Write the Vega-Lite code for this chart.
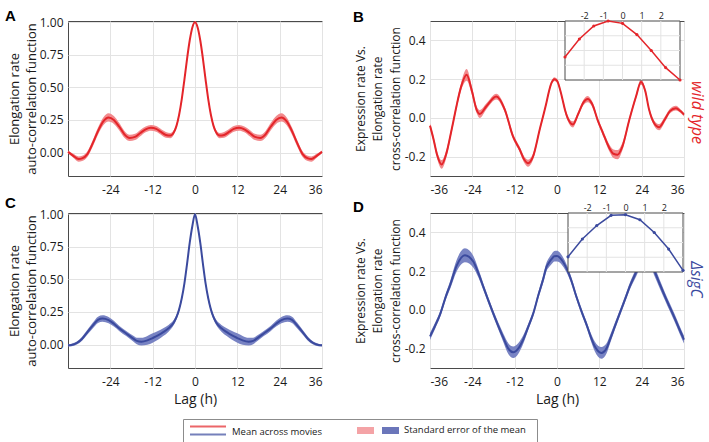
{
  "$schema": "https://vega.github.io/schema/vega-lite/v6.json",
  "autosize": {"type": "none"},
  "padding": {"left": 68, "top": 21, "right": 641, "bottom": 421},
  "background": "white",
  "datasets": {
    "A": [
      {"lag": -36, "mean": 0.005, "lo": -0.005, "hi": 0.015},
      {"lag": -34.5, "mean": -0.025, "lo": -0.04, "hi": -0.01},
      {"lag": -33, "mean": -0.05, "lo": -0.07, "hi": -0.03},
      {"lag": -32, "mean": -0.045, "lo": -0.065, "hi": -0.025},
      {"lag": -30.5, "mean": -0.012, "lo": -0.034, "hi": 0.01},
      {"lag": -29, "mean": 0.07, "lo": 0.045, "hi": 0.095},
      {"lag": -27.5, "mean": 0.165, "lo": 0.137, "hi": 0.193},
      {"lag": -26, "mean": 0.24, "lo": 0.21, "hi": 0.27},
      {"lag": -24.5, "mean": 0.27, "lo": 0.238, "hi": 0.302},
      {"lag": -23, "mean": 0.25, "lo": 0.22, "hi": 0.28},
      {"lag": -21.5, "mean": 0.2, "lo": 0.172, "hi": 0.228},
      {"lag": -20, "mean": 0.14, "lo": 0.114, "hi": 0.166},
      {"lag": -18.5, "mean": 0.112, "lo": 0.088, "hi": 0.136},
      {"lag": -17, "mean": 0.12, "lo": 0.096, "hi": 0.144},
      {"lag": -15.5, "mean": 0.15, "lo": 0.126, "hi": 0.174},
      {"lag": -14, "mean": 0.178, "lo": 0.156, "hi": 0.2},
      {"lag": -12.5, "mean": 0.19, "lo": 0.168, "hi": 0.212},
      {"lag": -11, "mean": 0.182, "lo": 0.16, "hi": 0.204},
      {"lag": -9.75, "mean": 0.16, "lo": 0.138, "hi": 0.182},
      {"lag": -8.25, "mean": 0.135, "lo": 0.113, "hi": 0.157},
      {"lag": -7, "mean": 0.13, "lo": 0.11, "hi": 0.15},
      {"lag": -6, "mean": 0.155, "lo": 0.137, "hi": 0.173},
      {"lag": -5.25, "mean": 0.205, "lo": 0.188, "hi": 0.222},
      {"lag": -4.5, "mean": 0.29, "lo": 0.274, "hi": 0.306},
      {"lag": -3.75, "mean": 0.41, "lo": 0.395, "hi": 0.425},
      {"lag": -3, "mean": 0.56, "lo": 0.546, "hi": 0.574},
      {"lag": -2.25, "mean": 0.72, "lo": 0.708, "hi": 0.732},
      {"lag": -1.5, "mean": 0.86, "lo": 0.85, "hi": 0.87},
      {"lag": -0.75, "mean": 0.96, "lo": 0.952, "hi": 0.968},
      {"lag": 0, "mean": 1.0, "lo": 0.996, "hi": 1.004},
      {"lag": 0.75, "mean": 0.96, "lo": 0.952, "hi": 0.968},
      {"lag": 1.5, "mean": 0.86, "lo": 0.85, "hi": 0.87},
      {"lag": 2.25, "mean": 0.72, "lo": 0.708, "hi": 0.732},
      {"lag": 3, "mean": 0.56, "lo": 0.546, "hi": 0.574},
      {"lag": 3.75, "mean": 0.41, "lo": 0.395, "hi": 0.425},
      {"lag": 4.5, "mean": 0.29, "lo": 0.274, "hi": 0.306},
      {"lag": 5.25, "mean": 0.205, "lo": 0.188, "hi": 0.222},
      {"lag": 6, "mean": 0.155, "lo": 0.137, "hi": 0.173},
      {"lag": 7, "mean": 0.13, "lo": 0.11, "hi": 0.15},
      {"lag": 8.25, "mean": 0.135, "lo": 0.113, "hi": 0.157},
      {"lag": 9.75, "mean": 0.16, "lo": 0.138, "hi": 0.182},
      {"lag": 11, "mean": 0.182, "lo": 0.16, "hi": 0.204},
      {"lag": 12.5, "mean": 0.19, "lo": 0.168, "hi": 0.212},
      {"lag": 14, "mean": 0.178, "lo": 0.156, "hi": 0.2},
      {"lag": 15.5, "mean": 0.15, "lo": 0.126, "hi": 0.174},
      {"lag": 17, "mean": 0.12, "lo": 0.096, "hi": 0.144},
      {"lag": 18.5, "mean": 0.112, "lo": 0.088, "hi": 0.136},
      {"lag": 20, "mean": 0.14, "lo": 0.114, "hi": 0.166},
      {"lag": 21.5, "mean": 0.2, "lo": 0.172, "hi": 0.228},
      {"lag": 23, "mean": 0.25, "lo": 0.22, "hi": 0.28},
      {"lag": 24.5, "mean": 0.27, "lo": 0.238, "hi": 0.302},
      {"lag": 26, "mean": 0.24, "lo": 0.21, "hi": 0.27},
      {"lag": 27.5, "mean": 0.165, "lo": 0.137, "hi": 0.193},
      {"lag": 29, "mean": 0.07, "lo": 0.045, "hi": 0.095},
      {"lag": 30.5, "mean": -0.012, "lo": -0.034, "hi": 0.01},
      {"lag": 32, "mean": -0.045, "lo": -0.065, "hi": -0.025},
      {"lag": 33, "mean": -0.05, "lo": -0.07, "hi": -0.03},
      {"lag": 34.5, "mean": -0.025, "lo": -0.04, "hi": -0.01},
      {"lag": 36, "mean": 0.005, "lo": -0.005, "hi": 0.015}
    ],
    "B": [
      {"lag": -36, "mean": -0.04, "lo": -0.052, "hi": -0.028},
      {"lag": -35, "mean": -0.11, "lo": -0.125, "hi": -0.095},
      {"lag": -34, "mean": -0.19, "lo": -0.208, "hi": -0.172},
      {"lag": -32.7, "mean": -0.24, "lo": -0.262, "hi": -0.218},
      {"lag": -31.3, "mean": -0.18, "lo": -0.2, "hi": -0.16},
      {"lag": -30.2, "mean": -0.09, "lo": -0.106, "hi": -0.074},
      {"lag": -29.4, "mean": -0.02, "lo": -0.035, "hi": -0.005},
      {"lag": -28.5, "mean": 0.06, "lo": 0.044, "hi": 0.076},
      {"lag": -27.2, "mean": 0.16, "lo": 0.14, "hi": 0.18},
      {"lag": -25.6, "mean": 0.222, "lo": 0.192, "hi": 0.252},
      {"lag": -24.2, "mean": 0.145, "lo": 0.123, "hi": 0.167},
      {"lag": -22.8, "mean": 0.043, "lo": 0.025, "hi": 0.061},
      {"lag": -21.9, "mean": 0.02, "lo": 0.0, "hi": 0.04},
      {"lag": -20, "mean": 0.06, "lo": 0.045, "hi": 0.075},
      {"lag": -17.2, "mean": 0.11, "lo": 0.095, "hi": 0.125},
      {"lag": -14.8, "mean": 0.043, "lo": 0.028, "hi": 0.058},
      {"lag": -12.5, "mean": -0.094, "lo": -0.108, "hi": -0.08},
      {"lag": -10.6, "mean": -0.162, "lo": -0.176, "hi": -0.148},
      {"lag": -9.3, "mean": -0.215, "lo": -0.231, "hi": -0.199},
      {"lag": -8.2, "mean": -0.234, "lo": -0.252, "hi": -0.216},
      {"lag": -6.8, "mean": -0.2, "lo": -0.216, "hi": -0.184},
      {"lag": -4.9, "mean": -0.06, "lo": -0.072, "hi": -0.048},
      {"lag": -3, "mean": 0.078, "lo": 0.068, "hi": 0.088},
      {"lag": -2.25, "mean": 0.139, "lo": 0.129, "hi": 0.149},
      {"lag": -1.5, "mean": 0.183, "lo": 0.173, "hi": 0.193},
      {"lag": -0.75, "mean": 0.2, "lo": 0.19, "hi": 0.21},
      {"lag": 0, "mean": 0.192, "lo": 0.182, "hi": 0.202},
      {"lag": 0.75, "mean": 0.154, "lo": 0.144, "hi": 0.164},
      {"lag": 1.5, "mean": 0.1, "lo": 0.09, "hi": 0.11},
      {"lag": 2.25, "mean": 0.042, "lo": 0.03, "hi": 0.054},
      {"lag": 3, "mean": 0.0, "lo": -0.014, "hi": 0.014},
      {"lag": 4.5, "mean": -0.034, "lo": -0.05, "hi": -0.018},
      {"lag": 6, "mean": 0.02, "lo": 0.008, "hi": 0.032},
      {"lag": 7.5, "mean": 0.08, "lo": 0.066, "hi": 0.094},
      {"lag": 8.7, "mean": 0.097, "lo": 0.081, "hi": 0.113},
      {"lag": 10, "mean": 0.07, "lo": 0.056, "hi": 0.084},
      {"lag": 11.5, "mean": -0.01, "lo": -0.022, "hi": 0.002},
      {"lag": 13, "mean": -0.077, "lo": -0.091, "hi": -0.063},
      {"lag": 14.8, "mean": -0.154, "lo": -0.172, "hi": -0.136},
      {"lag": 16, "mean": -0.185, "lo": -0.207, "hi": -0.163},
      {"lag": 17.2, "mean": -0.19, "lo": -0.214, "hi": -0.166},
      {"lag": 18.5, "mean": -0.15, "lo": -0.17, "hi": -0.13},
      {"lag": 20.5, "mean": -0.01, "lo": -0.022, "hi": 0.002},
      {"lag": 22.4, "mean": 0.11, "lo": 0.098, "hi": 0.122},
      {"lag": 23.8, "mean": 0.185, "lo": 0.171, "hi": 0.199},
      {"lag": 25, "mean": 0.14, "lo": 0.128, "hi": 0.152},
      {"lag": 26.1, "mean": 0.043, "lo": 0.031, "hi": 0.055},
      {"lag": 27.5, "mean": -0.026, "lo": -0.04, "hi": -0.012},
      {"lag": 29, "mean": -0.048, "lo": -0.064, "hi": -0.032},
      {"lag": 30.5, "mean": -0.01, "lo": -0.024, "hi": 0.004},
      {"lag": 32, "mean": 0.035, "lo": 0.023, "hi": 0.047},
      {"lag": 33.7, "mean": 0.05, "lo": 0.038, "hi": 0.062},
      {"lag": 35, "mean": 0.035, "lo": 0.025, "hi": 0.045},
      {"lag": 36, "mean": 0.017, "lo": 0.007, "hi": 0.027}
    ],
    "C": [
      {"lag": -36, "mean": -0.006, "lo": -0.014, "hi": 0.002},
      {"lag": -35, "mean": -0.003, "lo": -0.013, "hi": 0.007},
      {"lag": -33.5, "mean": 0.012, "lo": 0.0, "hi": 0.024},
      {"lag": -32, "mean": 0.045, "lo": 0.03, "hi": 0.06},
      {"lag": -30.5, "mean": 0.095, "lo": 0.077, "hi": 0.113},
      {"lag": -29, "mean": 0.145, "lo": 0.123, "hi": 0.167},
      {"lag": -27.5, "mean": 0.19, "lo": 0.166, "hi": 0.214},
      {"lag": -26.2, "mean": 0.2, "lo": 0.175, "hi": 0.225},
      {"lag": -24.5, "mean": 0.188, "lo": 0.164, "hi": 0.212},
      {"lag": -23, "mean": 0.16, "lo": 0.138, "hi": 0.182},
      {"lag": -21.5, "mean": 0.125, "lo": 0.105, "hi": 0.145},
      {"lag": -19.5, "mean": 0.085, "lo": 0.065, "hi": 0.105},
      {"lag": -17.5, "mean": 0.046, "lo": 0.024, "hi": 0.068},
      {"lag": -16.5, "mean": 0.028, "lo": 0.003, "hi": 0.053},
      {"lag": -15.2, "mean": 0.022, "lo": -0.008, "hi": 0.052},
      {"lag": -13.5, "mean": 0.032, "lo": -0.002, "hi": 0.066},
      {"lag": -12, "mean": 0.05, "lo": 0.014, "hi": 0.086},
      {"lag": -10.5, "mean": 0.07, "lo": 0.036, "hi": 0.104},
      {"lag": -9, "mean": 0.095, "lo": 0.065, "hi": 0.125},
      {"lag": -7.5, "mean": 0.125, "lo": 0.099, "hi": 0.151},
      {"lag": -6, "mean": 0.17, "lo": 0.15, "hi": 0.19},
      {"lag": -5.25, "mean": 0.21, "lo": 0.192, "hi": 0.228},
      {"lag": -4.5, "mean": 0.27, "lo": 0.254, "hi": 0.286},
      {"lag": -3.75, "mean": 0.355, "lo": 0.341, "hi": 0.369},
      {"lag": -3, "mean": 0.47, "lo": 0.458, "hi": 0.482},
      {"lag": -2.25, "mean": 0.62, "lo": 0.61, "hi": 0.63},
      {"lag": -1.5, "mean": 0.78, "lo": 0.772, "hi": 0.788},
      {"lag": -0.75, "mean": 0.91, "lo": 0.904, "hi": 0.916},
      {"lag": 0, "mean": 1.0, "lo": 0.996, "hi": 1.004},
      {"lag": 0.75, "mean": 0.91, "lo": 0.904, "hi": 0.916},
      {"lag": 1.5, "mean": 0.78, "lo": 0.772, "hi": 0.788},
      {"lag": 2.25, "mean": 0.62, "lo": 0.61, "hi": 0.63},
      {"lag": 3, "mean": 0.47, "lo": 0.458, "hi": 0.482},
      {"lag": 3.75, "mean": 0.355, "lo": 0.341, "hi": 0.369},
      {"lag": 4.5, "mean": 0.27, "lo": 0.254, "hi": 0.286},
      {"lag": 5.25, "mean": 0.21, "lo": 0.192, "hi": 0.228},
      {"lag": 6, "mean": 0.17, "lo": 0.15, "hi": 0.19},
      {"lag": 7.5, "mean": 0.125, "lo": 0.099, "hi": 0.151},
      {"lag": 9, "mean": 0.095, "lo": 0.065, "hi": 0.125},
      {"lag": 10.5, "mean": 0.07, "lo": 0.036, "hi": 0.104},
      {"lag": 12, "mean": 0.05, "lo": 0.014, "hi": 0.086},
      {"lag": 13.5, "mean": 0.032, "lo": -0.002, "hi": 0.066},
      {"lag": 15.2, "mean": 0.022, "lo": -0.008, "hi": 0.052},
      {"lag": 16.5, "mean": 0.028, "lo": 0.003, "hi": 0.053},
      {"lag": 17.5, "mean": 0.046, "lo": 0.024, "hi": 0.068},
      {"lag": 19.5, "mean": 0.085, "lo": 0.065, "hi": 0.105},
      {"lag": 21.5, "mean": 0.125, "lo": 0.105, "hi": 0.145},
      {"lag": 23, "mean": 0.16, "lo": 0.138, "hi": 0.182},
      {"lag": 24.5, "mean": 0.188, "lo": 0.164, "hi": 0.212},
      {"lag": 26.2, "mean": 0.2, "lo": 0.175, "hi": 0.225},
      {"lag": 27.5, "mean": 0.19, "lo": 0.166, "hi": 0.214},
      {"lag": 29, "mean": 0.145, "lo": 0.123, "hi": 0.167},
      {"lag": 30.5, "mean": 0.095, "lo": 0.077, "hi": 0.113},
      {"lag": 32, "mean": 0.045, "lo": 0.03, "hi": 0.06},
      {"lag": 33.5, "mean": 0.012, "lo": 0.0, "hi": 0.024},
      {"lag": 35, "mean": -0.003, "lo": -0.013, "hi": 0.007},
      {"lag": 36, "mean": -0.006, "lo": -0.014, "hi": 0.002}
    ],
    "D": [
      {"lag": -36, "mean": -0.137, "lo": -0.155, "hi": -0.119},
      {"lag": -34.5, "mean": -0.08, "lo": -0.096, "hi": -0.064},
      {"lag": -33.2, "mean": -0.026, "lo": -0.041, "hi": -0.011},
      {"lag": -31.5, "mean": 0.07, "lo": 0.054, "hi": 0.086},
      {"lag": -30.3, "mean": 0.128, "lo": 0.108, "hi": 0.148},
      {"lag": -28.4, "mean": 0.23, "lo": 0.2, "hi": 0.26},
      {"lag": -26.1, "mean": 0.282, "lo": 0.246, "hi": 0.318},
      {"lag": -23.7, "mean": 0.248, "lo": 0.218, "hi": 0.278},
      {"lag": -22.3, "mean": 0.19, "lo": 0.168, "hi": 0.212},
      {"lag": -20.9, "mean": 0.12, "lo": 0.102, "hi": 0.138},
      {"lag": -19.5, "mean": 0.05, "lo": 0.034, "hi": 0.066},
      {"lag": -18.1, "mean": -0.017, "lo": -0.033, "hi": -0.001},
      {"lag": -16.6, "mean": -0.085, "lo": -0.103, "hi": -0.067},
      {"lag": -15.2, "mean": -0.145, "lo": -0.167, "hi": -0.123},
      {"lag": -13.8, "mean": -0.2, "lo": -0.228, "hi": -0.172},
      {"lag": -12.4, "mean": -0.219, "lo": -0.249, "hi": -0.189},
      {"lag": -11, "mean": -0.2, "lo": -0.228, "hi": -0.172},
      {"lag": -9.6, "mean": -0.154, "lo": -0.176, "hi": -0.132},
      {"lag": -8.1, "mean": -0.085, "lo": -0.101, "hi": -0.069},
      {"lag": -6.7, "mean": -0.017, "lo": -0.031, "hi": -0.003},
      {"lag": -5.3, "mean": 0.075, "lo": 0.059, "hi": 0.091},
      {"lag": -3.9, "mean": 0.16, "lo": 0.14, "hi": 0.18},
      {"lag": -3, "mean": 0.2206, "lo": 0.1986, "hi": 0.2426},
      {"lag": -2.25, "mean": 0.2448, "lo": 0.2208, "hi": 0.2688},
      {"lag": -1.5, "mean": 0.263, "lo": 0.237, "hi": 0.289},
      {"lag": -0.75, "mean": 0.2768, "lo": 0.2498, "hi": 0.3038},
      {"lag": 0, "mean": 0.2777, "lo": 0.2497, "hi": 0.3057},
      {"lag": 0.75, "mean": 0.2709, "lo": 0.2439, "hi": 0.2979},
      {"lag": 1.5, "mean": 0.2535, "lo": 0.2285, "hi": 0.2785},
      {"lag": 2.25, "mean": 0.2311, "lo": 0.2081, "hi": 0.2541},
      {"lag": 3, "mean": 0.2023, "lo": 0.1823, "hi": 0.2223},
      {"lag": 4, "mean": 0.155, "lo": 0.138, "hi": 0.172},
      {"lag": 5.5, "mean": 0.068, "lo": 0.053, "hi": 0.083},
      {"lag": 7, "mean": -0.01, "lo": -0.025, "hi": 0.005},
      {"lag": 8.4, "mean": -0.077, "lo": -0.093, "hi": -0.061},
      {"lag": 9.6, "mean": -0.14, "lo": -0.16, "hi": -0.12},
      {"lag": 10.7, "mean": -0.188, "lo": -0.213, "hi": -0.163},
      {"lag": 12.6, "mean": -0.222, "lo": -0.252, "hi": -0.192},
      {"lag": 14, "mean": -0.2, "lo": -0.226, "hi": -0.174},
      {"lag": 15, "mean": -0.154, "lo": -0.176, "hi": -0.132},
      {"lag": 16.4, "mean": -0.085, "lo": -0.103, "hi": -0.067},
      {"lag": 17.8, "mean": -0.017, "lo": -0.033, "hi": -0.001},
      {"lag": 19.2, "mean": 0.05, "lo": 0.034, "hi": 0.066},
      {"lag": 20.6, "mean": 0.12, "lo": 0.102, "hi": 0.138},
      {"lag": 22.5, "mean": 0.197, "lo": 0.175, "hi": 0.219},
      {"lag": 24, "mean": 0.26, "lo": 0.232, "hi": 0.288},
      {"lag": 25.1, "mean": 0.28, "lo": 0.25, "hi": 0.31},
      {"lag": 26.3, "mean": 0.265, "lo": 0.237, "hi": 0.293},
      {"lag": 27.7, "mean": 0.197, "lo": 0.172, "hi": 0.222},
      {"lag": 29.2, "mean": 0.13, "lo": 0.108, "hi": 0.152},
      {"lag": 30.6, "mean": 0.07, "lo": 0.05, "hi": 0.09},
      {"lag": 31.9, "mean": 0.017, "lo": -0.003, "hi": 0.037},
      {"lag": 33.3, "mean": -0.04, "lo": -0.06, "hi": -0.02},
      {"lag": 34.7, "mean": -0.1, "lo": -0.12, "hi": -0.08},
      {"lag": 36, "mean": -0.154, "lo": -0.174, "hi": -0.134}
    ]
  },
  "vconcat": [
    {
      "vconcat": [
        {
          "hconcat": [
            {
              "width": 254, "height": 155,
              "title": {"text": "A", "dx": -63, "offset": -7.5},
              "data": {"name": "A"},
              "encoding": {
                "x": {"field": "lag", "type": "quantitative", "scale": {"domain": [-36, 36], "nice": false}, "axis": {"values": [-24, -12, 0, 12, 24, 36], "title": null}}
              },
              "layer": [
                {
                  "mark": {"type": "area", "interpolate": "monotone", "color": "#f28a8d"},
                  "encoding": {
                    "y": {"field": "lo", "type": "quantitative", "scale": {"domain": [-0.18, 1.01], "nice": false, "zero": false}, "axis": {"values": [0, 0.25, 0.5, 0.75, 1], "format": ".2f", "title": ["Elongation rate", "auto-correlation function"], "titleFontSize": 13, "titleLineHeight": 16.5, "titlePadding": 1}},
                    "y2": {"field": "hi"}
                  }
                },
                {
                  "mark": {"type": "line", "interpolate": "monotone", "color": "#e4252a", "strokeWidth": 2},
                  "encoding": {
                    "y": {"field": "mean", "type": "quantitative", "axis": {"values": [0, 0.25, 0.5, 0.75, 1], "format": ".2f", "title": ["Elongation rate", "auto-correlation function"], "titleFontSize": 13, "titleLineHeight": 16.5, "titlePadding": 1}}
                  }
                }
              ]
            },
            {
              "width": 254, "height": 155,
              "title": {"text": "B", "dx": -77, "offset": -14},
              "data": {"name": "B"},
              "resolve": {"scale": {"x": "independent", "y": "independent"}, "axis": {"x": "independent", "y": "independent"}},
              "layer": [
                {
                  "mark": {"type": "area", "interpolate": "monotone", "color": "#f28a8d"},
                  "encoding": {
                    "x": {"field": "lag", "type": "quantitative", "scale": {"domain": [-36, 36], "nice": false}, "axis": {"values": [-36, -24, -12, 0, 12, 24, 36], "title": null}},
                    "y": {"field": "lo", "type": "quantitative", "scale": {"domain": [-0.3, 0.5], "nice": false, "zero": false}, "axis": {"values": [-0.2, 0, 0.2, 0.4], "format": ".1f", "title": ["Expression rate Vs.", "Elongation rate", "cross-correlation function"], "titleFontSize": 12, "titleLineHeight": 17.5, "titlePadding": 2}},
                    "y2": {"field": "hi"}
                  }
                },
                {
                  "mark": {"type": "line", "interpolate": "monotone", "color": "#e4252a", "strokeWidth": 2},
                  "encoding": {
                    "x": {"field": "lag", "type": "quantitative", "scale": {"domain": [-36, 36], "nice": false}, "axis": null},
                    "y": {"field": "mean", "type": "quantitative", "scale": {"domain": [-0.3, 0.5], "nice": false, "zero": false}, "axis": {"orient": "right", "title": "wild type", "labels": false, "ticks": false, "domain": false, "grid": false, "titleColor": "#e4252a", "titleFontStyle": "italic", "titleFontSize": 16, "titleAngle": 90, "titlePadding": 4, "titleY": 91}}
                  }
                },
                {
                  "layer": [
                    {
                      "data": {"values": [{}]},
                      "mark": {"type": "rect", "fill": "white", "stroke": "#4a4a4a", "strokeWidth": 1},
                      "encoding": {
                        "x": {"datum": -3, "type": "quantitative", "scale": {"domain": [-3, 3], "range": [135, 250], "nice": false, "zero": false}, "axis": {"orient": "top", "values": [-2, -1, 0, 1, 2], "labelFontSize": 9, "labelPadding": 1, "grid": false, "title": null}},
                        "x2": {"datum": 3},
                        "y": {"datum": 0, "type": "quantitative", "scale": {"domain": [0, 0.2], "range": [59, 0], "nice": false, "zero": false}, "axis": null},
                        "y2": {"datum": 0.2}
                      }
                    },
                    {
                      "data": {"values": [{"g": -2}, {"g": -1}, {"g": 0}, {"g": 1}, {"g": 2}]},
                      "mark": {"type": "rule", "color": "#e3e3e3"},
                      "encoding": {
                        "x": {"field": "g", "type": "quantitative", "axis": {"orient": "top", "values": [-2, -1, 0, 1, 2], "labelFontSize": 9, "labelPadding": 1, "grid": false, "title": null}},
                        "y": {"datum": 0, "type": "quantitative", "axis": null},
                        "y2": {"datum": 0.2}
                      }
                    },
                    {
                      "data": {"values": [{"h": 0.05}, {"h": 0.1}, {"h": 0.15}]},
                      "mark": {"type": "rule", "color": "#e3e3e3"},
                      "encoding": {
                        "y": {"field": "h", "type": "quantitative", "axis": null},
                        "x": {"datum": -3, "type": "quantitative", "axis": {"orient": "top", "values": [-2, -1, 0, 1, 2], "labelFontSize": 9, "labelPadding": 1, "grid": false, "title": null}},
                        "x2": {"datum": 3}
                      }
                    },
                    {
                      "transform": [{"filter": {"field": "lag", "range": [-3, 3]}}],
                      "mark": {"type": "line", "color": "#e4252a", "strokeWidth": 1.5, "point": {"filled": true, "size": 10, "color": "#e4252a"}},
                      "encoding": {
                        "x": {"field": "lag", "type": "quantitative", "axis": {"orient": "top", "values": [-2, -1, 0, 1, 2], "labelFontSize": 9, "labelPadding": 1, "grid": false, "title": null}},
                        "y": {"field": "mean", "type": "quantitative", "axis": null}
                      }
                    }
                  ]
                }
              ]
            }
          ],
          "spacing": 108,
          "bounds": "flush"
        },
        {
          "hconcat": [
            {
              "width": 254, "height": 155,
              "title": {"text": "C", "dx": -63, "offset": -3},
              "data": {"name": "C"},
              "encoding": {
                "x": {"field": "lag", "type": "quantitative", "scale": {"domain": [-36, 36], "nice": false}, "axis": {"values": [-24, -12, 0, 12, 24, 36], "title": "Lag (h)", "titleFontSize": 14, "titlePadding": 5}}
              },
              "layer": [
                {
                  "mark": {"type": "area", "interpolate": "monotone", "color": "#7883c3"},
                  "encoding": {
                    "y": {"field": "lo", "type": "quantitative", "scale": {"domain": [-0.18, 1.01], "nice": false, "zero": false}, "axis": {"values": [0, 0.25, 0.5, 0.75, 1], "format": ".2f", "title": ["Elongation rate", "auto-correlation function"], "titleFontSize": 13, "titleLineHeight": 16.5, "titlePadding": 1}},
                    "y2": {"field": "hi"}
                  }
                },
                {
                  "mark": {"type": "line", "interpolate": "monotone", "color": "#3b4a9e", "strokeWidth": 2},
                  "encoding": {
                    "y": {"field": "mean", "type": "quantitative", "axis": {"values": [0, 0.25, 0.5, 0.75, 1], "format": ".2f", "title": ["Elongation rate", "auto-correlation function"], "titleFontSize": 13, "titleLineHeight": 16.5, "titlePadding": 1}}
                  }
                }
              ]
            },
            {
              "width": 254, "height": 155,
              "title": {"text": "D", "dx": -77, "offset": -11.5},
              "data": {"name": "D"},
              "resolve": {"scale": {"x": "independent", "y": "independent"}, "axis": {"x": "independent", "y": "independent"}},
              "layer": [
                {
                  "mark": {"type": "area", "interpolate": "monotone", "color": "#7883c3"},
                  "encoding": {
                    "x": {"field": "lag", "type": "quantitative", "scale": {"domain": [-36, 36], "nice": false}, "axis": {"values": [-36, -24, -12, 0, 12, 24, 36], "title": "Lag (h)", "titleFontSize": 14, "titlePadding": 5}},
                    "y": {"field": "lo", "type": "quantitative", "scale": {"domain": [-0.3, 0.5], "nice": false, "zero": false}, "axis": {"values": [-0.2, 0, 0.2, 0.4], "format": ".1f", "title": ["Expression rate Vs.", "Elongation rate", "cross-correlation function"], "titleFontSize": 12, "titleLineHeight": 17.5, "titlePadding": 2}},
                    "y2": {"field": "hi"}
                  }
                },
                {
                  "mark": {"type": "line", "interpolate": "monotone", "color": "#3b4a9e", "strokeWidth": 2},
                  "encoding": {
                    "x": {"field": "lag", "type": "quantitative", "scale": {"domain": [-36, 36], "nice": false}, "axis": null},
                    "y": {"field": "mean", "type": "quantitative", "scale": {"domain": [-0.3, 0.5], "nice": false, "zero": false}, "axis": {"orient": "right", "title": "ΔsigC", "labels": false, "ticks": false, "domain": false, "grid": false, "titleColor": "#3b4a9e", "titleFontStyle": "italic", "titleFontSize": 15.5, "titleAngle": 90, "titlePadding": 3, "titleY": 66}}
                  }
                },
                {
                  "layer": [
                    {
                      "data": {"values": [{}]},
                      "mark": {"type": "rect", "fill": "white", "stroke": "#4a4a4a", "strokeWidth": 1},
                      "encoding": {
                        "x": {"datum": -3, "type": "quantitative", "scale": {"domain": [-3, 3], "range": [138, 253], "nice": false, "zero": false}, "axis": {"orient": "top", "values": [-2, -1, 0, 1, 2], "labelFontSize": 9, "labelPadding": 1, "grid": false, "title": null}},
                        "x2": {"datum": 3},
                        "y": {"datum": 0.2, "type": "quantitative", "scale": {"domain": [0.2, 0.28], "range": [59, 0], "nice": false, "zero": false}, "axis": null},
                        "y2": {"datum": 0.28}
                      }
                    },
                    {
                      "data": {"values": [{"g": -2}, {"g": -1}, {"g": 0}, {"g": 1}, {"g": 2}]},
                      "mark": {"type": "rule", "color": "#e3e3e3"},
                      "encoding": {
                        "x": {"field": "g", "type": "quantitative", "axis": {"orient": "top", "values": [-2, -1, 0, 1, 2], "labelFontSize": 9, "labelPadding": 1, "grid": false, "title": null}},
                        "y": {"datum": 0.2, "type": "quantitative", "axis": null},
                        "y2": {"datum": 0.28}
                      }
                    },
                    {
                      "data": {"values": [{"h": 0.22}, {"h": 0.24}, {"h": 0.26}]},
                      "mark": {"type": "rule", "color": "#e3e3e3"},
                      "encoding": {
                        "y": {"field": "h", "type": "quantitative", "axis": null},
                        "x": {"datum": -3, "type": "quantitative", "axis": {"orient": "top", "values": [-2, -1, 0, 1, 2], "labelFontSize": 9, "labelPadding": 1, "grid": false, "title": null}},
                        "x2": {"datum": 3}
                      }
                    },
                    {
                      "transform": [{"filter": {"field": "lag", "range": [-3, 3]}}],
                      "mark": {"type": "line", "color": "#3b4a9e", "strokeWidth": 1.5, "point": {"filled": true, "size": 10, "color": "#3b4a9e"}},
                      "encoding": {
                        "x": {"field": "lag", "type": "quantitative", "axis": {"orient": "top", "values": [-2, -1, 0, 1, 2], "labelFontSize": 9, "labelPadding": 1, "grid": false, "title": null}},
                        "y": {"field": "mean", "type": "quantitative", "axis": null}
                      }
                    }
                  ]
                }
              ]
            }
          ],
          "spacing": 108,
          "bounds": "flush"
        }
      ],
      "spacing": -1
    },
    {
      "hconcat": [
        {
          "width": 1, "height": 23,
          "view": {"stroke": null},
          "mark": {"type": "rule", "opacity": 0},
          "encoding": {}
        },
        {
          "width": 354, "height": 23,
          "view": {"stroke": "#8c8c8c"},
          "data": {"values": [
            {"entry": "Mean across movies", "strain": "wild type"},
            {"entry": "Mean across movies", "strain": "ΔsigC"},
            {"entry": "Standard error of the mean", "strain": "wild type"},
            {"entry": "Standard error of the mean", "strain": "ΔsigC"}
          ]},
          "encoding": {
            "x": {"field": "entry", "type": "nominal", "bandPosition": 0, "scale": {"domain": ["Mean across movies", "Standard error of the mean"], "paddingInner": 0, "paddingOuter": 0}, "axis": null}
          },
          "layer": [
            {
              "transform": [{"filter": "datum.entry == 'Mean across movies'"}],
              "mark": {"type": "tick", "orient": "horizontal", "size": 36, "thickness": 2, "xOffset": -63.5},
              "encoding": {
                "y": {"field": "strain", "type": "nominal", "scale": {"domain": ["wild type", "ΔsigC"], "paddingInner": 0, "paddingOuter": 0.44}, "axis": null},
                "color": {"field": "strain", "type": "nominal", "scale": {"domain": ["wild type", "ΔsigC"], "range": ["#e4252a", "#3b4a9e"]}, "legend": null}
              }
            },
            {
              "transform": [{"filter": "datum.entry == 'Mean across movies' && datum.strain == 'wild type'"}],
              "mark": {"type": "text", "align": "left", "baseline": "middle", "dx": 49, "dy": 1, "fontSize": 9.5, "color": "#1a1a1a"},
              "encoding": {"text": {"field": "entry"}}
            },
            {
              "transform": [{"filter": "datum.entry == 'Standard error of the mean' && datum.strain == 'wild type'"}],
              "mark": {"type": "tick", "orient": "horizontal", "size": 17, "thickness": 7, "xOffset": -83, "color": "#f4a3a6", "opacity": 1}
            },
            {
              "transform": [{"filter": "datum.entry == 'Standard error of the mean' && datum.strain == 'ΔsigC'"}],
              "mark": {"type": "tick", "orient": "horizontal", "size": 17, "thickness": 7, "xOffset": -58, "color": "#6b76ba", "opacity": 1}
            },
            {
              "transform": [{"filter": "datum.entry == 'Standard error of the mean' && datum.strain == 'wild type'"}],
              "mark": {"type": "text", "align": "left", "baseline": "middle", "dx": 44, "dy": -1, "fontSize": 9.5, "color": "#1a1a1a"},
              "encoding": {"text": {"field": "entry"}}
            }
          ]
        }
      ],
      "spacing": 114,
      "bounds": "flush"
    }
  ],
  "spacing": 11,
  "config": {
    "font": "Open Sans",
    "locale": {"number": {"decimal": ".", "thousands": ",", "grouping": [3], "currency": ["$", ""], "minus": "-"}},
    "view": {"stroke": "#4a4a4a", "strokeWidth": 1},
    "axis": {"grid": true, "gridColor": "#e3e3e3", "domain": false, "ticks": false, "labelFontSize": 12, "labelColor": "#1a1a1a", "titleColor": "#1a1a1a", "titleFontWeight": "normal", "labelPadding": 5},
    "axisX": {"labelPadding": 8},
    "title": {"anchor": "start", "frame": "group", "font": "Liberation Sans", "fontSize": 15, "fontWeight": "bold", "color": "#000000", "baseline": "alphabetic"}
  }
}
